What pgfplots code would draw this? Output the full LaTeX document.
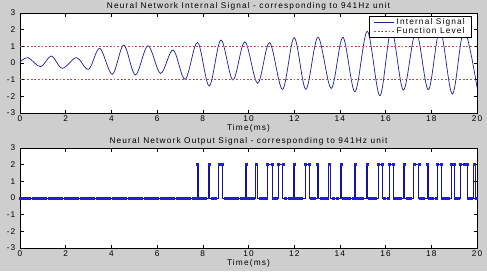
\documentclass[border=0pt]{standalone}
\usepackage{fontspec}
\setmainfont{Liberation Sans}[LetterSpace=14]
\usepackage{pgfplots}
\pgfplotsset{compat=1.18}

\definecolor{figgray}{RGB}{206,206,206}
\definecolor{sigblue}{RGB}{30,30,150}
\definecolor{lvlred}{RGB}{185,75,75}
\definecolor{outblue}{RGB}{20,20,150}
\definecolor{mkblue}{RGB}{30,30,225}

\pgfplotsset{
  matlab/.style={
    scale only axis,
    width=457bp, height=100bp,
    anchor=south west,
    xmin=0, xmax=20, ymin=-3, ymax=3,
    xtick={0,2,...,20}, ytick={-3,-2,...,3},
    tick align=inside,
    major tick length=3.5bp,
    axis line style={line width=0.6bp},
    every tick/.style={black, line width=0.5bp},
    axis background/.style={fill=white},
    font=\fontsize{8.3bp}{10bp}\selectfont,
    /pgf/number format/assume math mode=true,
    xticklabel style={inner sep=0pt, yshift=-2.7bp},
    yticklabel style={inner sep=0pt, xshift=-4.5bp},
    every axis title/.style={at={(0.5,1)}, anchor=base, yshift=4.5bp, inner sep=0pt},
    every axis x label/.style={at={(axis description cs:0.5,0)}, anchor=base, yshift=-17.5bp, inner sep=0pt},
    xlabel={Time(ms)},
  }
}

\begin{document}
\fontsize{8.3bp}{10bp}\selectfont
\begin{tikzpicture}[x=1bp,y=1bp]
\fill[figgray] (0,0) rectangle (487,271);
\useasboundingbox (0,0) rectangle (487,271);

% internal signal
\begin{axis}[matlab, at={(20bp,158bp)},
  title={Neural Network Internal Signal - corresponding to 941Hz unit},
  legend style={at={(rel axis cs:0.989,0.973)}, anchor=north east,
    draw=black, line width=0.5bp, fill=white, inner xsep=5bp, inner ysep=0.3bp,
    row sep=-2bp, font=\fontsize{8.3bp}{10bp}\selectfont},
  legend image code/.code={\draw[#1] (0bp,0bp) -- (20bp,0bp);},
  legend cell align=left,
]
\addplot[sigblue, line width=0.7bp, smooth, tension=0.55] coordinates {
  (0,0.05) (0.35,0.32) (0.9,-0.22) (1.37,0.42) (1.85,-0.32) (2.47,0.32)
  (3.0,-0.38) (3.49,0.88) (4.04,-0.68) (4.54,1.08) (5.05,-0.72) (5.6,1.04)
  (6.15,-0.62) (6.7,0.78) (7.23,-0.98) (7.77,1.24) (8.28,-1.38) (8.79,1.38)
  (9.32,-1.02) (9.84,1.28) (10.4,-1.22) (10.92,1.22) (11.49,-1.58) (12.0,1.52)
  (12.51,-1.58) (13.04,1.54) (13.62,-1.52) (14.13,1.54) (14.66,-1.72) (15.2,1.9)
  (15.75,-1.96) (16.25,2.0) (16.78,-1.62) (17.33,1.9) (17.87,-1.6) (18.38,2.0)
  (18.92,-1.86) (19.43,1.95) (20,-1.46)
};
\addlegendentry{Internal Signal}
\addplot[lvlred, line width=0.6bp, dash pattern=on 1.8bp off 1.8bp] coordinates {(0,1) (20,1)};
\addlegendentry{Function Level}
\addplot[lvlred, line width=0.6bp, dash pattern=on 1.8bp off 1.8bp, forget plot] coordinates {(0,-1) (20,-1)};
\end{axis}

% output signal
\begin{axis}[matlab, at={(20bp,23bp)},
  title={Neural Network Output Signal - corresponding to 941Hz unit},
]
\addplot[outblue, line width=0.65bp] coordinates {
  (0,0) (7.74,0) (7.74,2) (7.79,2) (7.79,0) (8.25,0) (8.25,2) (8.30,2) (8.30,0)
  (8.70,0) (8.70,2) (8.87,2) (8.87,0) (9.86,0) (9.86,2) (9.91,2) (9.91,0)
  (10.32,0) (10.32,2) (10.37,2) (10.37,0) (10.83,0) (10.83,2) (11.04,2) (11.04,0)
  (11.31,0) (11.31,2) (11.50,2) (11.50,0) (11.97,0) (11.97,2) (12.02,2) (12.02,0)
  (12.48,0) (12.48,2) (12.67,2) (12.67,0) (13.00,0) (13.00,2) (13.05,2) (13.05,0)
  (13.51,0) (13.51,2) (13.56,2) (13.56,0) (14.02,0) (14.02,2) (14.07,2) (14.07,0)
  (14.63,0) (14.63,2) (14.68,2) (14.68,0) (15.16,0) (15.16,2) (15.21,2) (15.21,0)
  (15.67,0) (15.67,2) (15.84,2) (15.84,0) (16.16,0) (16.16,2) (16.35,2) (16.35,0)
  (16.79,0) (16.79,2) (16.84,2) (16.84,0) (17.23,0) (17.23,2) (17.45,2) (17.45,0)
  (17.81,0) (17.81,2) (17.86,2) (17.86,0) (18.25,0) (18.25,2) (18.44,2) (18.44,0)
  (18.86,0) (18.86,2) (19.01,2) (19.01,0) (19.27,0) (19.27,2) (19.57,2) (19.57,0)
  (19.86,0) (19.86,2) (19.91,2) (19.91,0) (20,0)
};
% samples at zero
\addplot[only marks, mark=square*, mark size=1bp, mkblue] coordinates {
  (0.00,0) (0.14,0) (0.28,0) (0.42,0) (0.56,0) (0.70,0) (0.84,0) (0.98,0) (1.12,0) (1.26,0)
  (1.40,0) (1.54,0) (1.68,0) (1.82,0) (1.96,0) (2.10,0) (2.24,0) (2.38,0) (2.52,0) (2.66,0)
  (2.80,0) (2.94,0) (3.08,0) (3.22,0) (3.36,0) (3.50,0) (3.64,0) (3.78,0) (3.92,0) (4.06,0)
  (4.20,0) (4.34,0) (4.48,0) (4.62,0) (4.76,0) (4.90,0) (5.04,0) (5.18,0) (5.32,0) (5.46,0)
  (5.60,0) (5.74,0) (5.88,0) (6.02,0) (6.16,0) (6.30,0) (6.44,0) (6.58,0) (6.72,0) (6.86,0)
  (7.00,0) (7.14,0) (7.28,0) (7.42,0) (7.56,0) (7.70,0) (7.84,0) (7.98,0) (8.12,0) (8.40,0)
  (8.54,0) (8.96,0) (9.10,0) (9.24,0) (9.38,0) (9.52,0) (9.66,0) (9.80,0)
  (9.94,0) (10.08,0) (10.22,0) (10.50,0) (10.64,0) (10.78,0) (11.06,0)
  (11.20,0) (11.62,0) (11.76,0) (11.90,0) (12.04,0) (12.18,0) (12.32,0)
  (12.74,0) (12.88,0) (13.16,0) (13.30,0) (13.44,0) (13.72,0) (13.86,0)
  (14.14,0) (14.28,0) (14.42,0) (14.56,0) (14.70,0) (14.84,0) (14.98,0) (15.26,0)
  (15.40,0) (15.54,0) (15.96,0) (16.10,0) (16.38,0) (16.52,0) (16.66,0)
  (16.94,0) (17.08,0) (17.50,0) (17.64,0) (17.92,0) (18.06,0)
  (18.20,0) (18.48,0) (18.62,0) (18.76,0) (19.04,0) (19.18,0)
  (19.60,0) (19.74,0) (19.95,0)
};
% samples at the top of each pulse
\addplot[only marks, mark=square*, mark size=1bp, mkblue] coordinates {
  (7.76,2) (8.27,2) (8.70,2) (8.87,2) (9.88,2) (10.34,2) (10.83,2) (11.04,2)
  (11.31,2) (11.50,2) (11.99,2) (12.48,2) (12.67,2) (13.02,2) (13.53,2) (14.04,2)
  (14.65,2) (15.18,2) (15.67,2) (15.84,2) (16.16,2) (16.35,2) (16.81,2) (17.23,2)
  (17.45,2) (17.83,2) (18.25,2) (18.44,2) (18.86,2) (19.01,2) (19.27,2) (19.42,2)
  (19.57,2) (19.88,2)
};
\end{axis}
\end{tikzpicture}
\end{document}
